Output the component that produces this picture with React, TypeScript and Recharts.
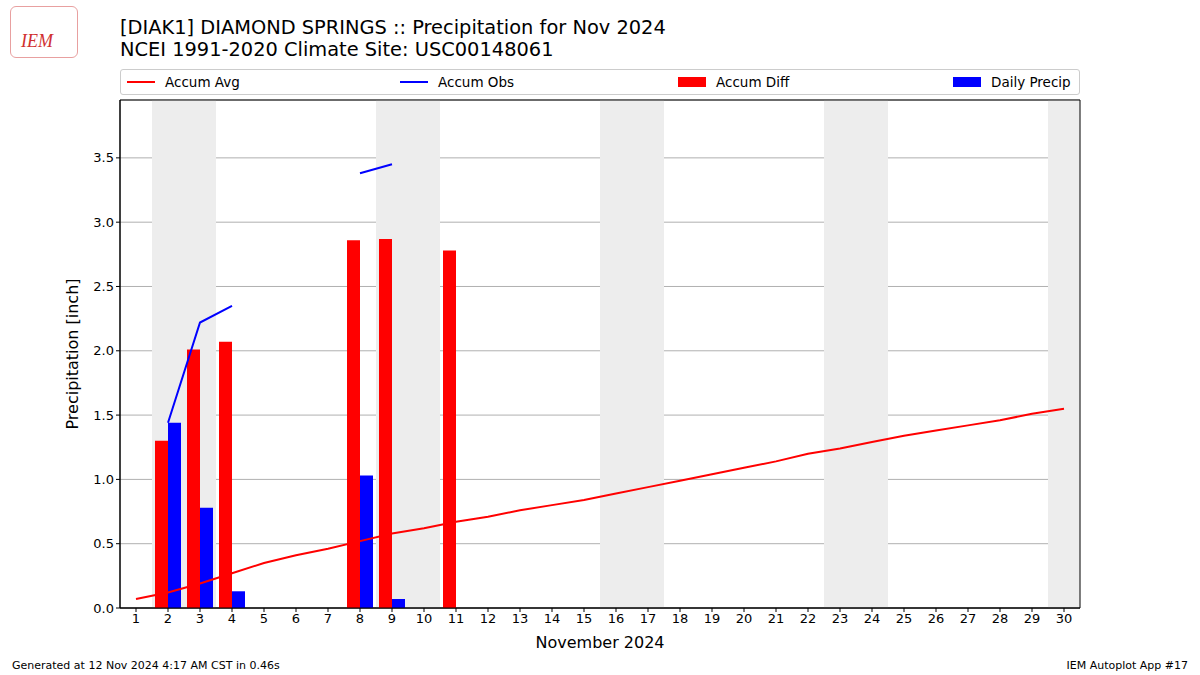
import { ComposedChart, Bar, Line, XAxis, YAxis, CartesianGrid, ReferenceArea } from 'recharts';

const days = Array.from({ length: 30 }, (_, i) => i + 1);
const accumAvg = [0.07, 0.12, 0.19, 0.27, 0.35, 0.41, 0.46, 0.52, 0.58, 0.62, 0.67, 0.71, 0.76, 0.8, 0.84, 0.89, 0.94, 0.99, 1.04, 1.09, 1.14, 1.2, 1.24, 1.29, 1.34, 1.38, 1.42, 1.46, 1.51, 1.55];
const accumObs: (number | null)[] = [null, 1.44, 2.22, 2.35, null, null, null, 3.38, 3.45, null, null, null, null, null, null, null, null, null, null, null, null, null, null, null, null, null, null, null, null, null];
const accumDiff: (number | null)[] = [null, 1.3, 2.01, 2.07, null, null, null, 2.86, 2.87, null, 2.78, null, null, null, null, null, null, null, null, null, null, null, null, null, null, null, null, null, null, null];
const dailyPrecip: (number | null)[] = [null, 1.44, 0.78, 0.13, null, null, null, 1.03, 0.07, null, null, null, null, null, null, null, null, null, null, null, null, null, null, null, null, null, null, null, null, null];
const weekends: [number, number][] = [[1.5, 3.5], [8.5, 10.5], [15.5, 17.5], [22.5, 24.5], [29.5, 30.5]];
const yTicks = [0, 0.5, 1, 1.5, 2, 2.5, 3, 3.5];

const data = days.map((d, i) => ({
  day: d,
  avg: accumAvg[i],
  obs: accumObs[i],
  diff: accumDiff[i],
  precip: dailyPrecip[i],
}));

const font = '"DejaVu Sans", sans-serif';

const legendItems = [
  { label: 'Accum Avg', color: 'red', kind: 'line', x: 6 },
  { label: 'Accum Obs', color: 'blue', kind: 'line', x: 279 },
  { label: 'Accum Diff', color: 'red', kind: 'box', x: 557 },
  { label: 'Daily Precip', color: 'blue', kind: 'box', x: 832 },
];

function LegendBox() {
  return (
    <div style={{ position: 'absolute', left: 120, top: 69, width: 958, height: 24, border: '1px solid #cccccc', borderRadius: 3, fontSize: 13.5, background: '#fff' }}>
      {legendItems.map((it) => (
        <div key={it.label} style={{ position: 'absolute', left: it.x, top: 4, display: 'flex', alignItems: 'center' }}>
          {it.kind === 'line' ? (
            <div style={{ width: 28, height: 2, background: it.color }} />
          ) : (
            <div style={{ width: 28, height: 10, background: it.color }} />
          )}
          <span style={{ marginLeft: 10, color: '#000' }}>{it.label}</span>
        </div>
      ))}
    </div>
  );
}

export default function App() {
  return (
    <div style={{ position: 'absolute', left: 0, top: 0, width: 1200, height: 675, background: '#fff', fontFamily: font }}>
      <ComposedChart
        width={1200}
        height={675}
        data={data}
        margin={{ top: 100, right: 120, bottom: 27, left: 60 }}
        barGap={0}
        style={{ fontFamily: font }}
      >
        {weekends.map(([a, b]) => (
          <ReferenceArea key={a} x1={a} x2={b} y1={0} y2={3.95} fill="#ededed" fillOpacity={1} stroke="none" ifOverflow="visible" />
        ))}
        <CartesianGrid vertical={false} stroke="#b0b0b0" strokeWidth={1} />
        <XAxis
          dataKey="day"
          type="number"
          domain={[0.5, 30.5]}
          ticks={days}
          interval={0}
          allowDataOverflow
          height={40}
          tick={{ fill: '#000', fontSize: 13 }}
          tickLine={{ stroke: '#000' }}
          tickSize={4}
          axisLine={{ stroke: '#000' }}
          label={{ value: 'November 2024', position: 'insideBottom', offset: 0, fill: '#000', fontSize: 16 }}
        />
        <YAxis
          type="number"
          domain={[0, 3.95]}
          ticks={yTicks}
          allowDataOverflow
          width={60}
          tick={{ fill: '#000', fontSize: 13 }}
          tickLine={{ stroke: '#000' }}
          tickSize={4}
          axisLine={{ stroke: '#000' }}
          tickFormatter={(v: number) => v.toFixed(1)}
          label={{ value: 'Precipitation [inch]', angle: -90, position: 'insideLeft', offset: 12, fill: '#000', fontSize: 16, style: { textAnchor: 'middle' } }}
        />
        <Bar dataKey="diff" name="Accum Diff" fill="red" barSize={13} isAnimationActive={false} />
        <Bar dataKey="precip" name="Daily Precip" fill="blue" barSize={13} isAnimationActive={false} />
        <Line dataKey="avg" name="Accum Avg" stroke="red" strokeWidth={2} dot={false} type="linear" isAnimationActive={false} />
        <Line dataKey="obs" name="Accum Obs" stroke="blue" strokeWidth={2} dot={false} type="linear" connectNulls={false} isAnimationActive={false} />
        <ReferenceArea x1={0.5} x2={30.5} y1={0} y2={3.95} fill="none" stroke="#000" strokeWidth={1} ifOverflow="visible" />
      </ComposedChart>
      <div style={{ position: 'absolute', left: 10, top: 6, width: 66, height: 50, border: '1px solid #e8a0a0', borderRadius: 6 }}>
        <span style={{ position: 'absolute', left: 10, top: 24, color: '#d03030', fontFamily: '"Liberation Serif", serif', fontStyle: 'italic', fontSize: 18 }}>IEM</span>
      </div>
      <div style={{ position: 'absolute', left: 120, top: 17, fontSize: 19.4, lineHeight: '22px', color: '#000' }}>
        [DIAK1] DIAMOND SPRINGS :: Precipitation for Nov 2024
        <br />
        NCEI 1991-2020 Climate Site: USC00148061
      </div>
      <LegendBox />
      <div style={{ position: 'absolute', left: 12, top: 659, fontSize: 11, color: '#000' }}>Generated at 12 Nov 2024 4:17 AM CST in 0.46s</div>
      <div style={{ position: 'absolute', right: 12, top: 659, fontSize: 11, color: '#000' }}>IEM Autoplot App #17</div>
    </div>
  );
}
